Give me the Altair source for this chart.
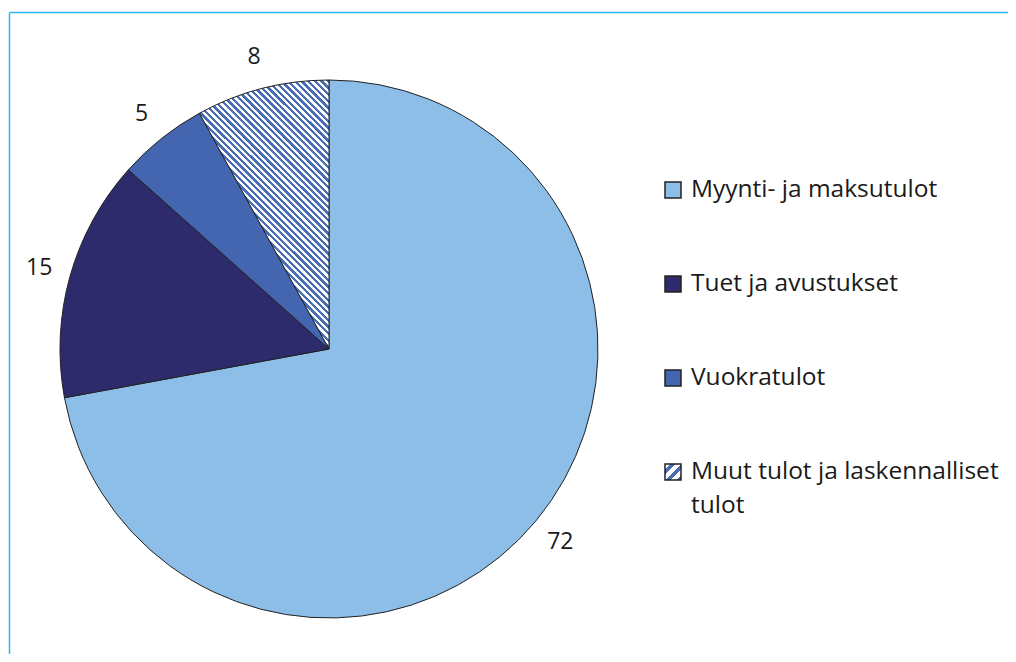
import altair as alt
import pandas as pd

# ---- data ----
names = ["Myynti- ja maksutulot", "Tuet ja avustukset", "Vuokratulot",
         "Muut tulot ja laskennalliset tulot"]
values = [72.1, 14.5, 5.4, 8.0]
labels = ["72", "15", "5", "8"]
legend_line1 = ["Myynti- ja maksutulot", "Tuet ja avustukset", "Vuokratulot",
                "Muut tulot ja laskennalliset"]
legend_line2 = ["", "", "", "tulot"]
colors = ["#8DBEE8", "#2E2B6D", "#4466B0", "#FFFFFF"]

df = pd.DataFrame({"idx": list(range(len(names))), "name": names, "value": values,
                   "label": labels, "l1": legend_line1, "l2": legend_line2})

HATCH = names[3]
STRIPE = "#4A6DB8"


def stripes(n, blue_frac=0.5):
    stops = []
    for i in range(n):
        a = i / n
        b = (i + (1 - blue_frac)) / n
        c = (i + 1) / n
        stops += [{"offset": a, "color": "#FFFFFF"}, {"offset": b, "color": "#FFFFFF"},
                  {"offset": b, "color": STRIPE}, {"offset": c, "color": STRIPE}]
    return stops


pie_grad = {"gradient": "linear", "x1": 0, "y1": 1, "x2": 0.578, "y2": -0.202,
            "stops": stripes(60, 0.5)}
leg_grad = {"gradient": "linear", "x1": 0, "y1": 0, "x2": 1, "y2": 1,
            "stops": stripes(3, 0.45)}

CX, CY = 321, 341
FONT = "Open Sans"
TXT = "#1A1A1A"

fill_pie = alt.condition(f"datum.name === '{HATCH}'", alt.value(pie_grad),
                         alt.Color("name:N", scale=alt.Scale(domain=names, range=colors),
                                   legend=None))
fill_leg = alt.condition(f"datum.name === '{HATCH}'", alt.value(leg_grad),
                         alt.Color("name:N", scale=alt.Scale(domain=names, range=colors),
                                   legend=None))

base = alt.Chart(df)

arcs = base.mark_arc(stroke="#222222", strokeWidth=1, radius=269).encode(
    theta=alt.Theta("value:Q", stack=True),
    order=alt.Order("idx:Q", sort="ascending"),
    color=fill_pie,
    x=alt.value(CX), y=alt.value(CY),
)

pie_labels = base.mark_text(radius=301, fontSize=23, font=FONT, color=TXT).encode(
    theta=alt.Theta("value:Q", stack=True),
    order=alt.Order("idx:Q", sort="ascending"),
    text="label:N",
    x=alt.value(CX), y=alt.value(CY),
)

ly = alt.Y("name:N", sort=names, axis=None,
           scale=alt.Scale(type="point", padding=0, range=[182, 464]))

leg_sq = base.mark_square(size=256, stroke="#222222", strokeWidth=1.5, opacity=1).encode(
    x=alt.value(665), y=ly, color=fill_leg,
)
leg_t1 = base.mark_text(align="left", baseline="middle", fontSize=24.5, font=FONT,
                        color=TXT).encode(x=alt.value(683), y=ly, text="l1:N")
leg_t2 = base.mark_text(align="left", baseline="middle", fontSize=24.5, font=FONT,
                        color=TXT, dy=34).encode(x=alt.value(683), y=ly, text="l2:N")

frame = alt.Chart(pd.DataFrame({"k": [0]}))
left_rule = frame.mark_rule(color="#2CB5EE", strokeWidth=1.5).encode(
    x=alt.value(1.5), y=alt.value(4.5), y2=alt.value(660))
top_rule = frame.mark_rule(color="#2CB5EE", strokeWidth=1.5).encode(
    x=alt.value(1.5), x2=alt.value(1010), y=alt.value(4.5))

chart = alt.layer(left_rule, top_rule, arcs, pie_labels, leg_sq, leg_t1, leg_t2).properties(
    width=1000, height=646, autosize="none", padding=0, background="white"
).configure_view(stroke=None)

chart.save("out.html", embed_options={"renderer": "svg", "actions": False})
